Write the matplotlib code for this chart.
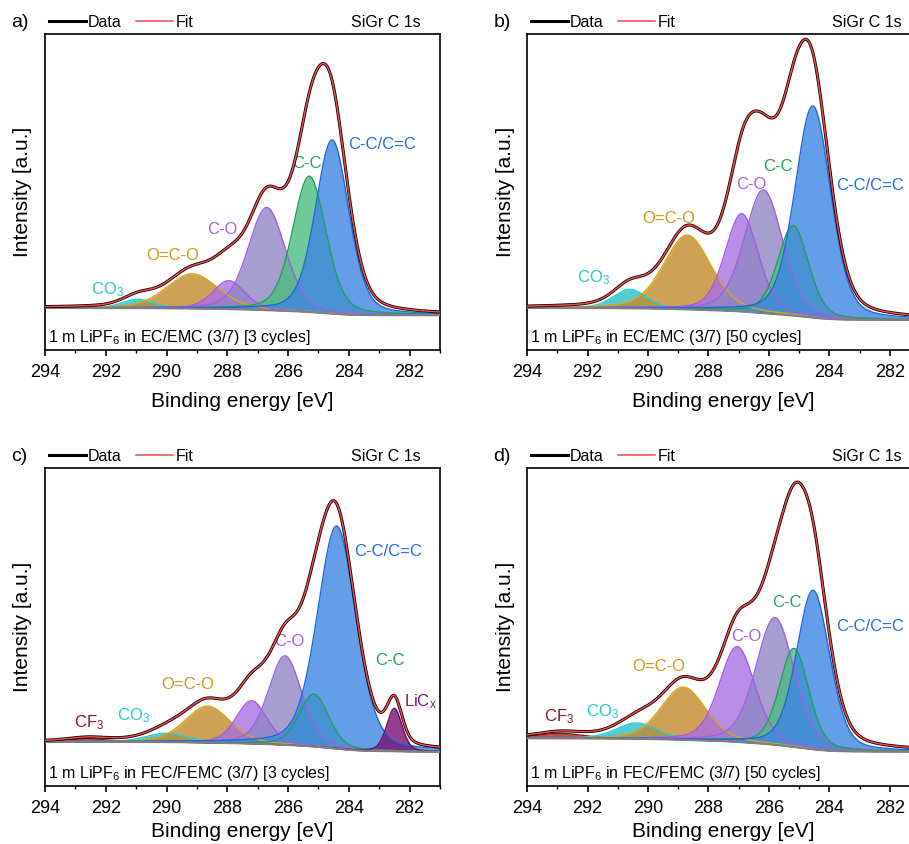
import numpy as np
import matplotlib
matplotlib.use("Agg")
import matplotlib.pyplot as plt

plt.rcParams['font.family'] = ['Liberation Sans', 'DejaVu Sans']
plt.rcParams['mathtext.fontset'] = 'custom'
plt.rcParams['mathtext.rm'] = 'Liberation Sans'
plt.rcParams['mathtext.it'] = 'Liberation Sans:italic'

# ---- data (intensity in % of the axis height) ----
energy = np.linspace(294, 281, 1301)

# 'COm' = the main C-O component (drawn in the greyish purple)
a_kinds = ['CO3', 'OCO', 'CO', 'COm', 'CC', 'CCCC']
a_centers = [290.95, 289.15, 287.95, 286.7, 285.3, 284.55]
a_heights = [2.8, 11.0, 9.0, 32.5, 43.0, 55.0]
a_fwhm = [1.2, 2.0, 1.25, 1.45, 1.3, 1.3]
a_bg = [13.3, 11.0]

b_kinds = ['CO3', 'OCO', 'CO', 'COm', 'CC', 'CCCC']
b_centers = [290.6, 288.7, 286.9, 286.18, 285.2, 284.55]
b_heights = [6.0, 23.5, 31.0, 39.0, 28.5, 67.0]
b_fwhm = [1.3, 1.85, 1.3, 1.5, 1.2, 1.4]
b_bg = [13.3, 9.5]

c_kinds = ['CF3', 'CO3', 'OCO', 'CO', 'COm', 'CC', 'CCCC', 'LiCx']
c_centers = [292.6, 290.0, 288.65, 287.2, 286.1, 285.15, 284.4, 282.5]
c_heights = [1.0, 2.8, 11.5, 13.5, 28.0, 16.5, 70.0, 13.5]
c_fwhm = [1.5, 1.6, 1.75, 1.2, 1.3, 1.15, 1.5, 0.6]
c_bg = [13.9, 10.8]

d_kinds = ['CF3', 'CO3', 'OCO', 'CO', 'COm', 'CC', 'CCCC']
d_centers = [292.9, 290.37, 288.83, 287.05, 285.8, 285.17, 284.54]
d_heights = [1.6, 5.0, 16.6, 30.0, 40.0, 31.0, 50.0]
d_fwhm = [1.8, 1.6, 1.75, 1.4, 1.5, 1.15, 1.3]
d_bg = [15.0, 10.8]

titles = ['a)', 'b)', 'c)', 'd)']
captions = ['1 m LiPF$_6$ in EC/EMC (3/7) [3 cycles]',
            '1 m LiPF$_6$ in EC/EMC (3/7) [50 cycles]',
            '1 m LiPF$_6$ in FEC/FEMC (3/7) [3 cycles]',
            '1 m LiPF$_6$ in FEC/FEMC (3/7) [50 cycles]']

# peak label text and where it sits (energy, % height)
a_labels = [('CO$_3$', 'CO3', 291.95, 19), ('O=C-O', 'OCO', 289.8, 30),
            ('C-O', 'CO', 288.15, 38), ('C-C', 'CC', 285.38, 59),
            ('C-C/C=C', 'CCCC', 282.9, 65)]
b_labels = [('CO$_3$', 'CO3', 291.8, 23), ('O=C-O', 'OCO', 289.3, 41.6),
            ('C-O', 'CO', 286.6, 52.5), ('C-C', 'CC', 285.7, 58),
            ('C-C/C=C', 'CCCC', 282.65, 52)]
c_labels = [('CF$_3$', 'CF3', 292.55, 20), ('CO$_3$', 'CO3', 291.1, 22),
            ('O=C-O', 'OCO', 289.3, 31.8), ('C-O', 'CO', 285.95, 45.4),
            ('C-C/C=C', 'CCCC', 282.7, 73.7), ('C-C', 'CC', 282.65, 39.4),
            ('LiC$_\\mathrm{x}$', 'LiCx', 281.65, 26.5)]
d_labels = [('CF$_3$', 'CF3', 292.95, 21.8), ('CO$_3$', 'CO3', 291.5, 23.4),
            ('O=C-O', 'OCO', 289.65, 37.5), ('C-O', 'CO', 286.75, 46.9),
            ('C-C', 'CC', 285.4, 57.6), ('C-C/C=C', 'CCCC', 282.65, 50.3)]

# colours: fill, edge, label
colors = {
    'CF3': ('#9a2a2a', '#8b1a1a', '#8b1c1c'),
    'CO3': ('#2abdc8', '#22d0d8', '#22c8d2'),
    'OCO': ('#c48a2c', '#d8a418', '#d4961a'),
    'CO': ('#a870e2', '#a55ae6', '#a65ee0'),
    'COm': ('#8f86c4', '#a060e6', '#a65ee0'),
    'CC': ('#4cbc80', '#22a05a', '#26a35a'),
    'CCCC': ('#3d86e4', '#2068d8', '#1e6ee0'),
    'LiCx': ('#7a1072', '#6a0a62', '#7a1478'),
}


def peak(x, c, h, w, m=0.3):
    # Gaussian-Lorentzian sum, same FWHM
    g = np.exp(-4 * np.log(2) * (x - c) ** 2 / w ** 2)
    l = 1 / (1 + 4 * (x - c) ** 2 / w ** 2)
    return h * ((1 - m) * g + m * l)


def draw_panel(ax, kinds, centers, heights, fwhm, bg, labels, title, caption, xpad):
    peaks = [peak(energy, c, h, w) for c, h, w in zip(centers, heights, fwhm)]
    total = np.sum(peaks, axis=0)
    # Shirley-type step background
    cum = np.cumsum(total[::-1])[::-1]
    base = bg[1] + (bg[0] - bg[1]) * cum / cum[0]

    for k, p in zip(kinds, peaks):
        fc, ec, _ = colors[k]
        ax.fill_between(energy, base, base + p, color=fc, alpha=0.8, lw=0, zorder=2)
        ax.plot(energy, base + p, color=ec, lw=1.0, zorder=3)
    ax.plot(energy, base, color='#7f7f7f', lw=1.5, zorder=4)
    ld, = ax.plot(energy, base + total, color='black', lw=2.2, zorder=5, label='Data')
    lf, = ax.plot(energy, base + total, color='#f04848', lw=1.1, zorder=6, label='Fit')

    for txt, k, x, y in labels:
        ax.text(x, y, txt, color=colors[k][2], fontsize=12, ha='center', va='center')

    ax.set_xlim(294, 281)
    ax.set_ylim(0, 100)
    ax.set_xticks(np.arange(294, 280, -2))
    ax.set_xticks(np.arange(293, 280, -2), minor=True)
    ax.set_yticks([])
    ax.tick_params(axis='x', which='major', direction='out', length=4, width=1.2,
                   labelsize=13, pad=6)
    ax.tick_params(axis='x', which='minor', direction='out', length=2.5, width=1.0)
    for sp in ax.spines.values():
        sp.set_linewidth(1.2)
    ax.set_xlabel('Binding energy [eV]', fontsize=15, labelpad=xpad)
    ax.set_ylabel('Intensity [a.u.]', fontsize=15, labelpad=9)

    ax.text(0.008, 0.04, caption, transform=ax.transAxes, fontsize=11.5,
            ha='left', va='center')
    ax.text(-0.085, 1.035, title, transform=ax.transAxes, fontsize=14,
            ha='left', va='center')
    ax.text(0.952, 1.035, 'SiGr C 1s', transform=ax.transAxes, fontsize=11.5,
            ha='right', va='center')
    ax.legend(handles=[ld, lf], loc='lower left', bbox_to_anchor=(0.0, 1.0),
              ncol=2, frameon=False, fontsize=11.5, handlelength=2.3,
              handletextpad=0.15, columnspacing=0.9, borderpad=0.25,
              borderaxespad=0.0)


fig = plt.figure(figsize=(9.09, 8.44), dpi=100)
ax_a = fig.add_axes([0.0495, 0.5853, 0.4345, 0.3744])
ax_b = fig.add_axes([0.5798, 0.5853, 0.4325, 0.3744])
ax_c = fig.add_axes([0.0495, 0.0687, 0.4345, 0.3768])
ax_d = fig.add_axes([0.5798, 0.0687, 0.4325, 0.3768])

draw_panel(ax_a, a_kinds, a_centers, a_heights, a_fwhm, a_bg, a_labels, titles[0], captions[0], 8)
draw_panel(ax_b, b_kinds, b_centers, b_heights, b_fwhm, b_bg, b_labels, titles[1], captions[1], 8)
draw_panel(ax_c, c_kinds, c_centers, c_heights, c_fwhm, c_bg, c_labels, titles[2], captions[2], 4)
draw_panel(ax_d, d_kinds, d_centers, d_heights, d_fwhm, d_bg, d_labels, titles[3], captions[3], 4)

fig.savefig('out.png', dpi=100)
